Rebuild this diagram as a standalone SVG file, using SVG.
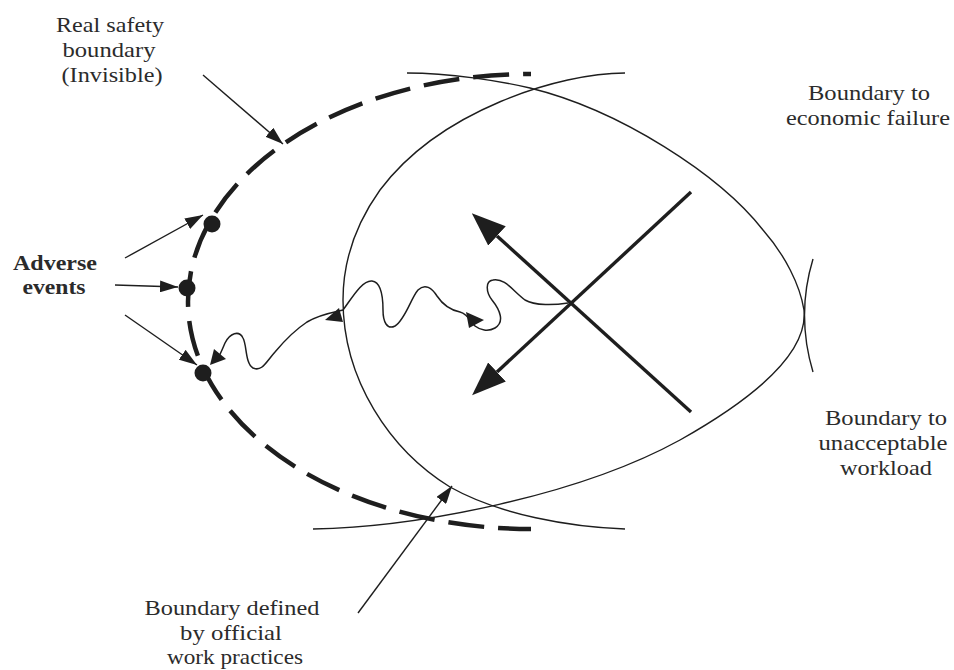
<svg xmlns="http://www.w3.org/2000/svg" width="954" height="670" viewBox="0 0 954 670">
<defs>
<style>
.bg{fill:#ffffff}
.thin{fill:none;stroke:#1e1e1e;stroke-width:1.4}
.dash{fill:none;stroke:#1e1e1e;stroke-width:4.5;stroke-dasharray:36 14;stroke-dashoffset:28}
.bold{fill:none;stroke:#1e1e1e;stroke-width:3.4}
.wig{fill:none;stroke:#1e1e1e;stroke-width:1.5}
.ptr{fill:none;stroke:#1e1e1e;stroke-width:1.4;marker-end:url(#ah)}
.big{fill:none;stroke:#1e1e1e;stroke-width:3.4;marker-end:url(#bah)}
.head{fill:#1e1e1e}
.dot{fill:#1e1e1e}
text{font-family:"Liberation Serif","Times New Roman",serif;font-size:21px;fill:#2b2b2b;text-anchor:middle}
.b{font-weight:bold}
</style>
<marker id="ah" markerUnits="userSpaceOnUse" markerWidth="18" markerHeight="12" refX="18" refY="6" orient="auto">
<path d="M0,0 L18,6 L0,12 z" fill="#1e1e1e"/>
</marker>
<marker id="bah" markerUnits="userSpaceOnUse" markerWidth="34" markerHeight="26" refX="0" refY="13" orient="auto">
<path d="M0,0 L34,13 L0,26 z" fill="#1e1e1e"/>
</marker>
</defs>
<rect class="bg" x="0" y="0" width="954" height="670"/>

<g id="boundaries">
<path id="economic-failure-boundary" class="thin" d="M407 73 C450 73 500 81 530 88 C620 110 720 175 763 230 C785 255 800 285 804 310 C808 350 760 395 680 440 C580 495 420 527 313 529"/>
<path id="official-boundary" class="thin" d="M625 73 C560 73 440 110 380 190 C355 225 343 260 343 300 C343 380 390 450 450 487 C500 515 570 527 625 529"/>
<path id="workload-boundary" class="thin" d="M813 259 Q796 315 813 372"/>
<path id="safety-boundary" class="dash" d="M531 74 A343 227.5 0 0 0 531 529"/>
</g>

<g id="operating-point">
<path class="big" d="M691 412 L497 236"/>
<path class="big" d="M691 192 L497 372"/>
</g>

<g id="drift">
<path class="wig" d="M568 303 C555 305 535 306 525 300 C512 290 505 278 493 280 C485 281 486 292 492 300 C500 310 505 322 495 328 C488 332 480 330 475 326 C471 322 468 314 460 312 C450 310 443 305 437 296 C432 288 425 283 418 290 C411 298 405 320 395 326 C387 330 383 322 383 310 C383 295 381 282 372 281 C362 280 352 298 343 310 C335 312 320 314 307 322 C295 330 285 340 275 352 C266 362 262 372 253 368 C245 363 247 345 243 338 C239 330 230 333 225 343 C222 350 220 355 218 358"/>
<polygon class="head" points="466,312 484,320 469,328"/>
<polygon class="head" points="325,320 339,308 343,322"/>
<polygon class="head" points="210,365 214,349 226,359"/>
</g>

<g id="adverse-events-points">
<circle class="dot" cx="212" cy="224" r="8.5"/>
<circle class="dot" cx="187" cy="288" r="8.5"/>
<circle class="dot" cx="203" cy="373" r="8.5"/>
</g>

<g id="connectors">
<path class="ptr" d="M203 75 L283 144"/>
<path class="ptr" d="M125 258 L203 215"/>
<path class="ptr" d="M115 285 L178 287"/>
<path class="ptr" d="M125 315 L197 365"/>
<path class="ptr" d="M358 613 L452 486"/>
</g>

<g id="label-real-safety">
<text x="110" y="32" textLength="108" lengthAdjust="spacingAndGlyphs">Real safety</text>
<text x="109" y="57" textLength="93" lengthAdjust="spacingAndGlyphs">boundary</text>
<text x="112" y="82" textLength="101" lengthAdjust="spacingAndGlyphs">(Invisible)</text>
</g>

<g id="label-adverse">
<text class="b" x="55" y="270" textLength="84" lengthAdjust="spacingAndGlyphs">Adverse</text>
<text class="b" x="54" y="294" textLength="63" lengthAdjust="spacingAndGlyphs">events</text>
</g>

<g id="label-economic">
<text x="869" y="100" textLength="122" lengthAdjust="spacingAndGlyphs">Boundary to</text>
<text x="868" y="125" textLength="164" lengthAdjust="spacingAndGlyphs">economic failure</text>
</g>

<g id="label-workload">
<text x="886" y="425" textLength="122" lengthAdjust="spacingAndGlyphs">Boundary to</text>
<text x="883" y="450" textLength="129" lengthAdjust="spacingAndGlyphs">unacceptable</text>
<text x="886" y="475" textLength="92" lengthAdjust="spacingAndGlyphs">workload</text>
</g>

<g id="label-official">
<text x="232" y="615" textLength="175" lengthAdjust="spacingAndGlyphs">Boundary defined</text>
<text x="231" y="640" textLength="102" lengthAdjust="spacingAndGlyphs">by official</text>
<text x="235" y="664" textLength="136" lengthAdjust="spacingAndGlyphs">work practices</text>
</g>
</svg>
